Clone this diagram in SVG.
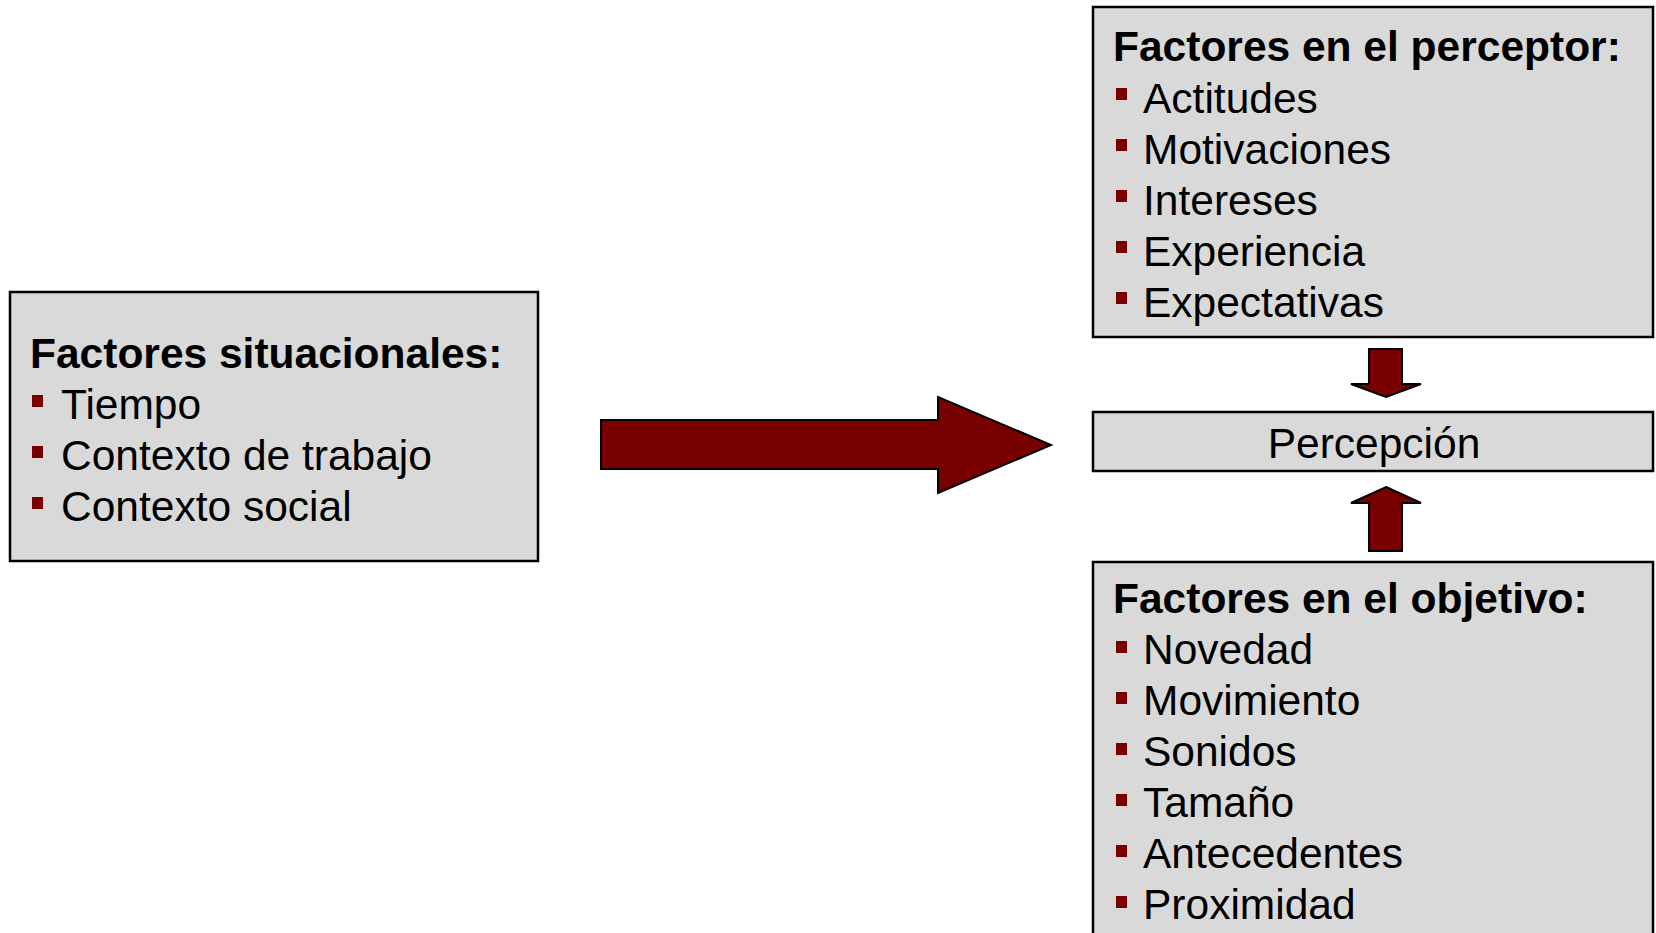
<svg xmlns="http://www.w3.org/2000/svg" width="1656" height="933" viewBox="0 0 1656 933">
<style>
.box{fill:#D9D9D9;stroke:#000;stroke-width:2.5}
.arr{fill:#780000;stroke:#000;stroke-width:2;stroke-linejoin:miter}
.b{fill:#780000}
.t{font-family:"Liberation Sans",Arial,sans-serif;font-size:42.5px;fill:#000}
.h{font-weight:bold}
</style>
<rect width="1656" height="933" fill="#fff"/>
<g id="situacionales">
<rect class="box" x="10" y="292" width="528" height="269"/>
<text class="t h" x="30" y="368">Factores situacionales:</text>
<rect class="b" x="32" y="395" width="11" height="12"/>
<text class="t" x="61" y="419">Tiempo</text>
<rect class="b" x="32" y="446" width="11" height="12"/>
<text class="t" x="61" y="470">Contexto de trabajo</text>
<rect class="b" x="32" y="497" width="11" height="12"/>
<text class="t" x="61" y="521">Contexto social</text>
</g>
<g id="perceptor">
<rect class="box" x="1093" y="7" width="560" height="330"/>
<text class="t h" x="1113" y="61">Factores en el perceptor:</text>
<rect class="b" x="1116" y="88" width="11" height="12"/>
<text class="t" x="1143" y="113">Actitudes</text>
<rect class="b" x="1116" y="139" width="11" height="12"/>
<text class="t" x="1143" y="164">Motivaciones</text>
<rect class="b" x="1116" y="190" width="11" height="12"/>
<text class="t" x="1143" y="215">Intereses</text>
<rect class="b" x="1116" y="241" width="11" height="12"/>
<text class="t" x="1143" y="266">Experiencia</text>
<rect class="b" x="1116" y="292" width="11" height="12"/>
<text class="t" x="1143" y="317">Expectativas</text>
</g>
<g id="percepcion">
<rect class="box" x="1093" y="412" width="560" height="59"/>
<text class="t" x="1374" y="458" text-anchor="middle">Percepción</text>
</g>
<g id="objetivo">
<rect class="box" x="1093" y="562" width="560" height="390"/>
<text class="t h" x="1113" y="613">Factores en el objetivo:</text>
<rect class="b" x="1116" y="641" width="11" height="12"/>
<text class="t" x="1143" y="664">Novedad</text>
<rect class="b" x="1116" y="692" width="11" height="12"/>
<text class="t" x="1143" y="715">Movimiento</text>
<rect class="b" x="1116" y="743" width="11" height="12"/>
<text class="t" x="1143" y="766">Sonidos</text>
<rect class="b" x="1116" y="794" width="11" height="12"/>
<text class="t" x="1143" y="817">Tamaño</text>
<rect class="b" x="1116" y="845" width="11" height="12"/>
<text class="t" x="1143" y="868">Antecedentes</text>
<rect class="b" x="1116" y="896" width="11" height="12"/>
<text class="t" x="1143" y="919">Proximidad</text>
</g>
<g id="connectors">
<polygon class="arr" points="601,420 938,420 938,397 1051,445 938,493 938,469 601,469"/>
<polygon class="arr" points="1369,349 1402,349 1402,384 1421,384 1386,397 1351,384 1369,384"/>
<polygon class="arr" points="1386,487 1421,503 1402,503 1402,551 1369,551 1369,503 1351,503"/>
</g>
</svg>
